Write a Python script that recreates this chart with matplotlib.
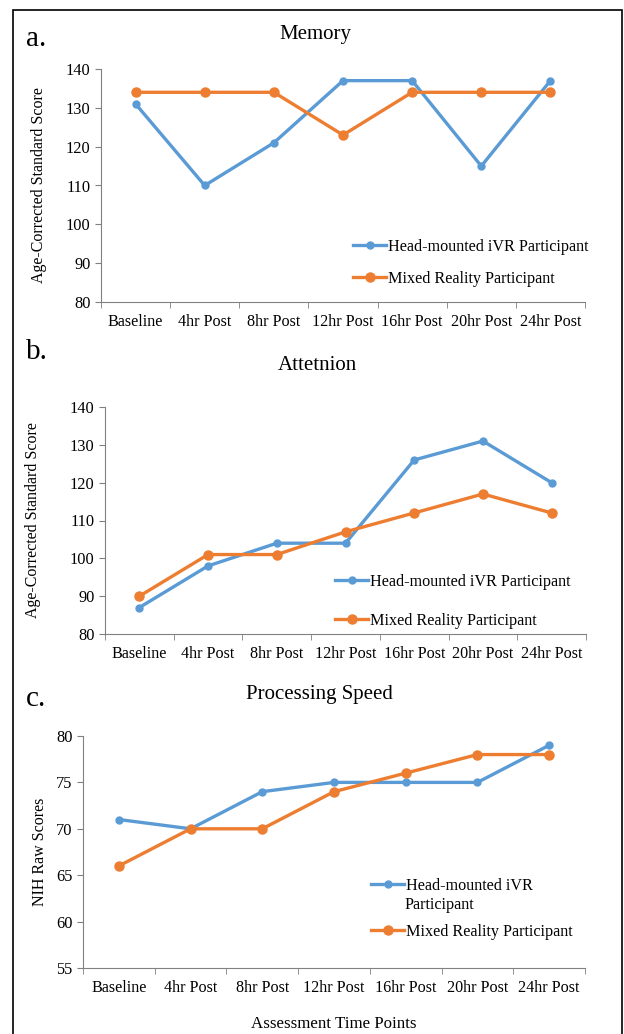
import matplotlib
matplotlib.use("Agg")
import matplotlib.pyplot as plt
from matplotlib.patches import Rectangle

plt.rcParams['font.family'] = ['Liberation Serif', 'DejaVu Serif']

time_points = ["Baseline", "4hr Post", "8hr Post", "12hr Post", "16hr Post", "20hr Post", "24hr Post"]

memory_ivr = [131, 110, 121, 137, 137, 115, 137]
memory_mr = [134, 134, 134, 123, 134, 134, 134]

attention_ivr = [87, 98, 104, 104, 126, 131, 120]
attention_mr = [90, 101, 101, 107, 112, 117, 112]

speed_ivr = [71, 70, 74, 75, 75, 75, 79]
speed_mr = [66, 70, 70, 74, 76, 78, 78]

blue = "#5B9BD5"
orange = "#ED7D31"
W, H = 624, 1034

fig = plt.figure(figsize=(W / 100, H / 100), dpi=100)

# border round the whole figure
fig.patches.append(Rectangle((13 / W, -0.01), (622 - 13) / W, 1 - 10 / H + 0.01,
                             transform=fig.transFigure, fill=False, edgecolor="black", lw=1.2))


def px_axes(left, top, right, bottom):
    return fig.add_axes([left / W, 1 - bottom / H, (right - left) / W, (bottom - top) / H])


def draw(ax, ivr, mr, ylim, yticks, ylabel, leg_labels, leg_pos, spacing):
    x = list(range(len(time_points)))
    ax.plot(x, ivr, color=blue, lw=2.4, marker="o", ms=5, label=leg_labels[0], zorder=3)
    ax.plot(x, mr, color=orange, lw=2.4, marker="o", ms=6.5, label=leg_labels[1], zorder=3)
    ax.set_xlim(-0.5, len(time_points) - 0.5)
    ax.set_ylim(*ylim)
    ax.set_yticks(yticks)
    ax.set_xticks(x)
    ax.set_xticklabels(time_points, fontsize=11.6)
    ax.set_xticks([i - 0.5 for i in range(len(time_points) + 1)], minor=True)
    ax.tick_params(axis="x", which="major", length=0, pad=9)
    ax.tick_params(axis="x", which="minor", length=4, direction="out", color="#808080")
    ax.tick_params(axis="y", length=4, direction="out", color="#808080", labelsize=11.8)
    for s in ["top", "right"]:
        ax.spines[s].set_visible(False)
    for s in ["left", "bottom"]:
        ax.spines[s].set_color("#808080")
    ax.set_ylabel(ylabel, fontsize=11.5)
    ax.legend(loc="upper left", bbox_to_anchor=leg_pos, bbox_transform=fig.transFigure,
              frameon=False, fontsize=11.6, handlelength=2.05, handletextpad=0.1,
              labelspacing=spacing, borderaxespad=0, borderpad=0)


ax1 = px_axes(101, 69, 585, 302)
draw(ax1, memory_ivr, memory_mr, (80, 140), range(80, 141, 10), "Age-Corrected Standard Score",
     ["Head-mounted iVR Participant", "Mixed Reality Participant"], (353 / W, 1 - 239 / H), 1.0)
ax1.yaxis.set_label_coords((47 - 101) / 484, 0.5)

ax2 = px_axes(105, 407, 586, 634)
draw(ax2, attention_ivr, attention_mr, (80, 140), range(80, 141, 10), "Age-Corrected Standard Score",
     ["Head-mounted iVR Participant", "Mixed Reality Participant"], (335 / W, 1 - 574 / H), 1.42)
ax2.yaxis.set_label_coords((41 - 105) / 481, 0.5)

ax3 = px_axes(83, 736, 585, 968)
draw(ax3, speed_ivr, speed_mr, (55, 80), range(55, 81, 5), "NIH Raw Scores",
     ["Head-mounted iVR", "Mixed Reality Participant"], (371 / W, 1 - 878 / H), 1.85)
ax3.yaxis.set_label_coords((48 - 83) / 502, 0.5)
ax3.set_xlabel("Assessment Time Points", fontsize=12.2, labelpad=14)
# second line of the wrapped legend label
fig.text(404 / W, 1 - 905 / H, "Participant", ha="left", va="center", fontsize=11.6)

fig.text(315 / W, 1 - 35 / H, "Memory", ha="center", va="center", fontsize=15)
fig.text(317 / W, 1 - 365 / H, "Attetnion", ha="center", va="center", fontsize=15)
fig.text(319 / W, 1 - 695 / H, "Processing Speed", ha="center", va="center", fontsize=15)
fig.text(26 / W, 1 - 39 / H, "a.", ha="left", va="center", fontsize=21)
fig.text(26 / W, 1 - 352 / H, "b.", ha="left", va="center", fontsize=21)
fig.text(26 / W, 1 - 699 / H, "c.", ha="left", va="center", fontsize=21)

fig.savefig("out.png", dpi=100)
